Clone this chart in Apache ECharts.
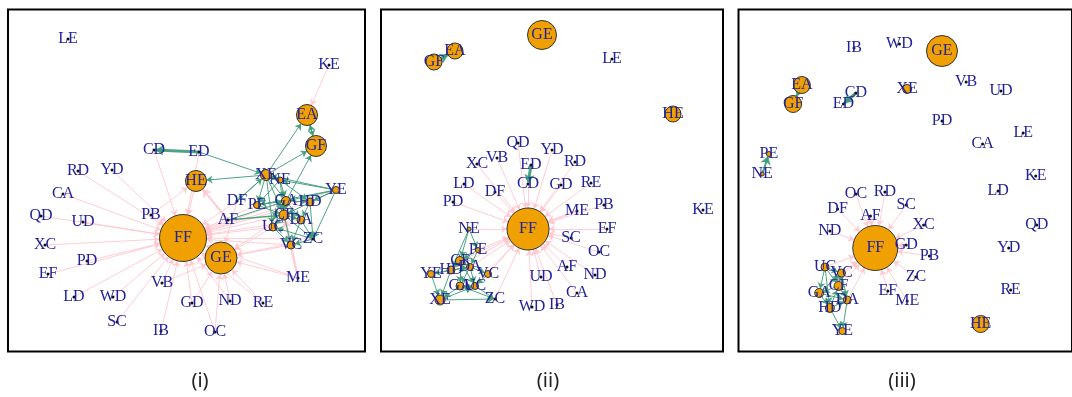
<!DOCTYPE html>
<html>
<head>
<meta charset="utf-8">
<script src="https://cdn.jsdelivr.net/npm/echarts@6/dist/echarts.min.js"></script>
<style>
  html, body { margin: 0; padding: 0; background: #fff; }
  #chart { width: 1072px; height: 397px; }
</style>
</head>
<body>
<div id="chart"></div>
<script>
// Node names shared by all three networks
const nodeNames = ['LE','KE','EA','GF','CD','ED','RD','YD','HE','XE','NE','YE','CA','DF','PE','GA','HD',
  'PB','QD','UD','AF','CF','DA','UC','ZC','VC','FF','GE','XC','PD','EF','ME','LD','WD','VB','GD','ND',
  'RE','SC','IB','OC'];

const panelLabels = ['(i)', '(ii)', '(iii)'];

// Layout coordinates of each network (layout units)
const layoutI = {
  LE:[60,31], KE:[321,57], EA:[299,107], GF:[308,138], CD:[146,142], ED:[191,144], RD:[70,163],
  YD:[104,162], HE:[188,173], XE:[258,167], NE:[272,172], YE:[328,182], CA:[55,186], DF:[229,193],
  PE:[249,197], GA:[278,193], HD:[302,194], PB:[143,207], QD:[33,208], UD:[75,214], AF:[220,212],
  CF:[276,207], DA:[293,212], UC:[265,219], ZC:[305,231], VC:[283,237], FF:[175,230], GE:[213,250],
  XC:[37,237], PD:[79,253], EF:[40,266], ME:[290,270], LD:[66,289], WD:[105,289], VB:[154,275],
  GD:[184,295], ND:[222,293], RE:[255,295], SC:[109,314], IB:[153,323], OC:[207,324]
};
const layoutII = {
  GE:[162,27], EA:[75,43], GF:[54,54], LE:[232,51], HE:[293,106], KE:[323,202], QD:[138,135],
  YD:[172,142], VB:[117,150], XC:[97,156], ED:[151,157], RD:[195,154], LD:[84,176], DF:[115,184],
  CD:[148,176], GD:[181,177], RE:[211,175], PD:[73,194], PB:[224,197], ME:[197,203], FF:[148,221],
  NE:[89,221], EF:[227,221], SC:[191,230], OC:[219,244], PE:[98,242], CF:[80,253], HD:[71,262],
  DA:[90,259], YE:[51,266], VC:[108,266], AF:[187,259], ND:[215,267], UD:[161,269], GA:[80,278],
  UC:[95,278], CA:[197,285], XE:[60,292], ZC:[115,291], WD:[152,299], IB:[177,297]
};
const layoutIII = {
  IB:[121,40], WD:[168,36], GE:[212,43], EA:[67,77], GF:[58,96], CD:[123,85], ED:[110,96],
  XE:[176,81], VB:[237,74], UD:[273,83], PD:[212,113], LE:[296,125], CA:[254,136], PE:[33,146],
  NE:[26,166], KE:[309,168], LD:[270,183], OC:[123,186], RD:[153,184], SC:[175,197], DF:[104,201],
  AF:[138,208], XC:[193,217], ND:[96,223], FF:[143,240], QD:[310,217], GD:[175,237], PB:[199,248],
  YD:[281,240], UC:[91,259], VC:[108,265], CF:[105,278], ZC:[185,269], GA:[85,285], DA:[114,292],
  RE:[283,282], EF:[156,283], ME:[176,293], HD:[96,300], YE:[109,323], HE:[252,316]
};

// Node strength per network (0 = peripheral node)
const strengthI = { FF:47, GE:32, HE:21, EA:21, GF:21, XE:11, NE:6, GA:9, HD:8, CF:10, DA:8, UC:8, VC:8, YE:7, PE:7 };
const strengthII = { FF:42, GE:29, HE:16, EA:16, GF:16, CF:9, HD:8, DA:7, YE:7, VC:7, GA:8, UC:7, XE:10, PE:5, NE:4 };
const strengthIII = { FF:45, GE:31, HE:17, EA:17, GF:17, XE:9, UC:8, VC:8, CF:9, GA:9, DA:8, HD:9, YE:7, PE:5, NE:4 };

// Directed links: [source, target, weight]
const inflowI = [
  ['RD','FF',1],['YD','FF',1],['CA','FF',1],['QD','FF',1],['UD','FF',1],['XC','FF',1],['PD','FF',1],
  ['EF','FF',1],['LD','FF',1],['WD','FF',1],['SC','FF',1],['IB','FF',1],['OC','FF',1],['GD','FF',1],
  ['VB','FF',1],['ND','FF',1],['PB','FF',1],['HE','FF',1],['CD','FF',1],['ED','FF',1],['AF','FF',1],
  ['DF','FF',1],['UC','FF',1],['CF','FF',1],['VC','FF',1],['ZC','FF',1],['DA','FF',1],['PE','FF',1],
  ['GA','FF',1],['HD','FF',1],['ME','FF',1],['RE','FF',1],['YE','FF',1],
  ['GD','GE',1],['ND','GE',1],['RE','GE',1],['ME','GE',1],['OC','GE',1],['VB','GE',1],['DF','GE',1],
  ['UC','GE',1],['VC','GE',1],['ZC','GE',1],['CF','GE',1],
  ['PB','HE',1],['AF','HE',2],['KE','EA',1],['ME','CF',2.5]
];
const clusterI = [
  ['ED','CD',3],['ED','XE',1],['XE','HE',1],['XE','EA',1],['XE','GF',1],['GF','EA',1],['EA','GF',1],
  ['GA','GF',1],['YE','XE',1],['YE','NE',1],['YE','GA',1],['YE','HD',1],['YE','ZC',1],['YE','CF',1],
  ['YE','PE',1],['XE','NE',1],['XE','PE',1],['XE','GA',1],['XE','CF',1],['XE','DF',1],['XE','UC',1],
  ['NE','GA',1],['NE','CF',1],['NE','PE',1],['NE','HD',1],['GA','HD',1],['GA','CF',1],['GA','DA',1],
  ['CF','DA',1],['CF','UC',1],['CF','VC',1],['CF','ZC',1],['DA','ZC',1],['DA','VC',1],['HD','DA',1],
  ['HD','ZC',1],['UC','VC',1],['ZC','VC',1],['AF','CF',1.5],['AF','GA',1],['PE','CF',1],['PE','GA',1],
  ['ZC','UC',1],['DF','XE',1]
];
const inflowII = [
  ['QD','FF',1],['YD','FF',1],['VB','FF',1],['XC','FF',1],['RD','FF',1],['LD','FF',1],['DF','FF',1],
  ['CD','FF',1],['GD','FF',1],['RE','FF',1],['PD','FF',1],['PB','FF',1],['ME','FF',1.5],['NE','FF',1],
  ['EF','FF',1],['SC','FF',1],['OC','FF',1],['PE','FF',1],['AF','FF',1],['ND','FF',1],['UD','FF',1],
  ['CA','FF',1],['WD','FF',1],['IB','FF',1],['ZC','FF',1],['VC','FF',1],['DA','FF',1],['CF','FF',1],
  ['UC','FF',1],['HD','FF',1]
];
const clusterII = [
  ['ED','CD',3],['GF','EA',3],['NE','PE',1],['NE','CF',1],['NE','HD',1],['PE','DA',1],['PE','CF',1],
  ['CF','HD',1],['CF','DA',1],['CF','GA',1],['CF','UC',1],['HD','XE',1],['HD','YE',1],['HD','DA',1],
  ['DA','VC',1],['DA','UC',1],['DA','GA',1],['GA','UC',1],['GA','XE',1],['UC','ZC',1],['VC','UC',1],
  ['YE','XE',1],['XE','ZC',1],['ZC','GA',1],['XE','UC',1],['YE','DA',1]
];
const inflowIII = [
  ['OC','FF',1],['RD','FF',1],['SC','FF',1],['DF','FF',1],['AF','FF',1],['XC','FF',1],['ND','FF',1],
  ['GD','FF',1],['PB','FF',1],['ZC','FF',1],['EF','FF',1],['ME','FF',1],['UC','FF',1],['VC','FF',1],
  ['CF','FF',1],['DA','FF',1],['GA','FF',1]
];
const clusterIII = [
  ['CD','ED',3],['EA','GF',2],['NE','PE',2],['UC','VC',1],['UC','GA',1],['UC','CF',1],['VC','CF',1],
  ['VC','DA',1],['CF','GA',1],['CF','DA',1],['GA','HD',1],['HD','DA',1],['HD','YE',1],['DA','YE',1],
  ['GA','VC',1],['HD','CF',1],['GA','DA',1],['UC','HD',1]
];

// Panel frames in pixels and the layout-unit window they show
const frames = [
  { left: 8, top: 9.5, width: 357, height: 342, x0: 0, y0: 1.5 },
  { left: 381, top: 9.5, width: 342, height: 342, x0: 1, y0: 1.5 },
  { left: 738.5, top: 9.5, width: 345, height: 342, x0: 1.5, y0: 1.5 }
];

const PINK = '#FFC4CE';
const GREEN = '#3a9a78';
const ORANGE = '#F0A000';
const LABEL = '#22229a';

function buildGraph(i, layout, strength, inflow, cluster) {
  const nodes = nodeNames.map(n => {
    const s = strength[n] || 0;
    return {
      name: n,
      value: layout[n],
      symbolSize: s > 0 ? s : 3,
      itemStyle: s > 0
        ? { color: ORANGE, borderColor: '#333', borderWidth: 1 }
        : { color: '#111', borderWidth: 0 }
    };
  });
  const mk = (color, alpha) => ([s, t, w]) => ({
    source: s, target: t,
    symbolSize: [0, 4 + 2 * Math.min(w, 2)],
    lineStyle: { color: color, width: w, opacity: alpha, curveness: 0 }
  });
  return {
    type: 'graph',
    coordinateSystem: 'cartesian2d',
    xAxisIndex: i, yAxisIndex: i,
    data: nodes,
    links: inflow.map(mk(PINK, 0.85)).concat(cluster.map(mk(GREEN, 0.9))),
    edgeSymbol: ['none', 'arrow'],
    edgeSymbolSize: [0, 6],
    label: {
      show: true, position: 'inside', formatter: '{b}',
      fontFamily: 'Liberation Serif', fontSize: 16, color: LABEL
    },
    emphasis: { disabled: true },
    silent: true,
    z: 3
  };
}

const chart = echarts.init(document.getElementById('chart'), null, { renderer: 'canvas' });
chart.setOption({
  backgroundColor: '#fff',
  animation: false,
  grid: frames.map(f => ({
    left: f.left, top: f.top, width: f.width, height: f.height,
    show: true, borderColor: '#000', borderWidth: 2, backgroundColor: 'transparent'
  })),
  xAxis: frames.map((f, i) => ({
    type: 'value', gridIndex: i, min: f.x0, max: f.x0 + f.width, show: false
  })),
  yAxis: frames.map((f, i) => ({
    type: 'value', gridIndex: i, min: f.y0, max: f.y0 + f.height, inverse: true, show: false
  })),
  series: [
    buildGraph(0, layoutI, strengthI, inflowI, clusterI),
    buildGraph(1, layoutII, strengthII, inflowII, clusterII),
    buildGraph(2, layoutIII, strengthIII, inflowIII, clusterIII)
  ],
  graphic: panelLabels.map((t, i) => ({
    type: 'text',
    x: [200, 548, 902][i], y: 381,
    style: {
      text: t, fill: '#222', font: '20px "Noto Sans"',
      textAlign: 'center', textVerticalAlign: 'middle'
    }
  }))
});
</script>
</body>
</html>
